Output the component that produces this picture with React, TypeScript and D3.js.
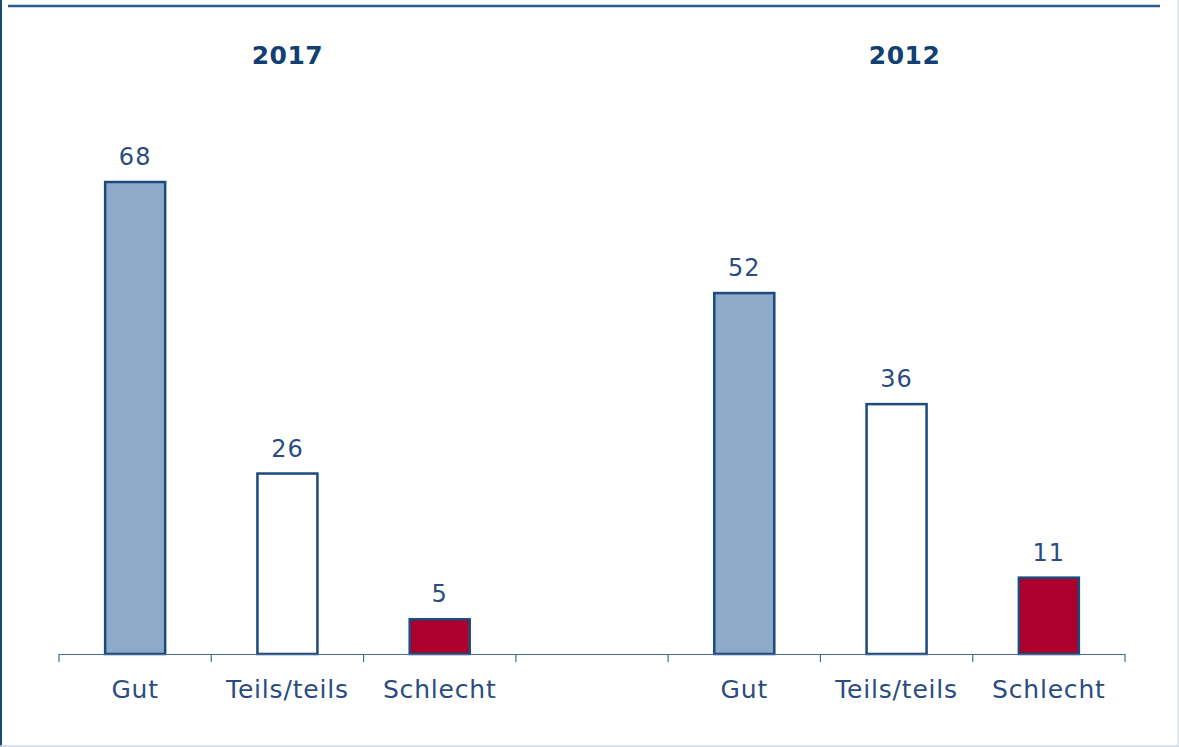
import React from "react";
import * as d3 from "d3";

const categories = ["Gut", "Teils/teils", "Schlecht", "", "Gut", "Teils/teils", "Schlecht"];
const keys = ["g1", "t1", "s1", "gap", "g2", "t2", "s2"];
const values = [68, 26, 5, null, 52, 36, 11];
const fills = ["#8dabc8", "#ffffff", "#ad002c", "none", "#8dabc8", "#ffffff", "#ad002c"];
const groupTitles = ["2017", "2012"];
const groupCenters = [[0, 2], [4, 6]];

const W = 1179;
const H = 747;

export default function App() {
  const x = d3.scaleBand<string>().domain(keys).range([59, 1125]).paddingInner(0).paddingOuter(0);
  const y = d3.scaleLinear().domain([0, 68]).range([654, 182]);
  const bw = 60;
  const text = "#2b4c7e";
  const stroke = "#1b4a7c";
  const font = "'DejaVu Sans', Verdana, sans-serif";
  const ticks = d3.range(keys.length + 1).map((i) => 59 + i * x.bandwidth());
  const titleOffsets = [0, 8];

  return (
    <svg width={W} height={H} style={{ position: "absolute", left: 0, top: 0, background: "#fff" }}>
      <line x1={1} x2={1} y1={0} y2={H} stroke="#1b4a7c" strokeWidth={2} />
      <line x1={1178} x2={1178} y1={0} y2={H} stroke="#dde5ee" strokeWidth={1.5} />
      <line x1={0} x2={W} y1={746} y2={746} stroke="#ccd9e6" strokeWidth={1.5} />
      <line x1={8} x2={1160} y1={6} y2={6} stroke="#2e5a94" strokeWidth={2.5} />

      {groupTitles.map((t, i) => {
        const [a, b] = groupCenters[i];
        const cx = ((x(keys[a])! + x(keys[b])! + x.bandwidth()) / 2) + titleOffsets[i];
        return (
          <text key={t} x={cx} y={64} textAnchor="middle" fontFamily={font} fontWeight="bold" fontSize={25} letterSpacing={0.5} fill="#133f72">
            {t}
          </text>
        );
      })}

      {values.map((v, i) => {
        if (v === null) return null;
        const cx = x(keys[i])! + x.bandwidth() / 2;
        return (
          <g key={keys[i]}>
            <rect x={cx - bw / 2} y={y(v)} width={bw} height={654 - y(v)} fill={fills[i]} stroke={stroke} strokeWidth={2.5} />
            <text x={cx} y={y(v) - 17} textAnchor="middle" fontFamily={font} fontSize={24} letterSpacing={1} fill={text}>
              {v}
            </text>
          </g>
        );
      })}

      <line x1={59} x2={1125} y1={654.5} y2={654.5} stroke="#4a6a94" strokeWidth={1.2} />
      {ticks.map((t, i) => (
        <line key={i} x1={t} x2={t} y1={654} y2={662} stroke="#4a6a94" strokeWidth={1.2} />
      ))}
      {categories.map((c, i) =>
        c ? (
          <text key={keys[i]} x={x(keys[i])! + x.bandwidth() / 2} y={698} textAnchor="middle" fontFamily={font} fontSize={25} letterSpacing={0.8} fill={text}>
            {c}
          </text>
        ) : null
      )}
    </svg>
  );
}
